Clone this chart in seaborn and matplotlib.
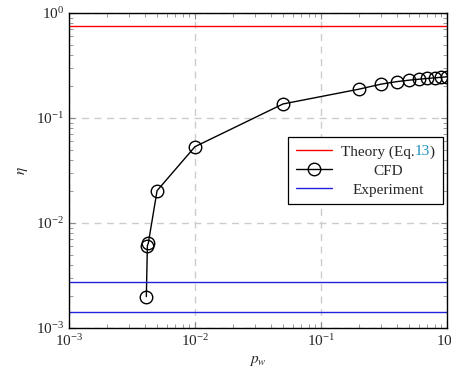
import matplotlib
matplotlib.use("Agg")
import matplotlib.pyplot as plt
import seaborn as sns
import pandas as pd

# values
cfd_pw = [0.00411, 0.00419, 0.00426, 0.005, 0.01, 0.05, 0.2, 0.3, 0.4, 0.5, 0.6, 0.7, 0.8, 0.9, 1.0]
cfd_eta = [0.00199, 0.0061, 0.0064, 0.0203, 0.0533, 0.136, 0.188, 0.21, 0.222, 0.229, 0.234, 0.238, 0.241, 0.244, 0.247]
theory_eta = 0.75
experiment_eta = [0.00276, 0.00143]
labels = ["Theory (Eq.13)", "CFD", "Experiment"]

sns.set_style("ticks")
plt.rcParams["font.family"] = ["Liberation Serif", "DejaVu Serif"]
plt.rcParams["mathtext.fontset"] = "stix"
plt.rcParams["font.size"] = 10

fig = plt.figure(figsize=(4.52, 3.71), dpi=100)
ax = fig.add_axes([0.1527, 0.116, 0.836, 0.849])

df = pd.DataFrame({"pw": cfd_pw, "eta": cfd_eta})

ax.axhline(theory_eta, color="red", lw=1, label="Theory (Eq.\u2007\u2007)")
sns.lineplot(data=df, x="pw", y="eta", ax=ax, color="black", lw=1, marker="o",
             markersize=9, markerfacecolor="none", markeredgecolor="black",
             markeredgewidth=1, estimator=None, sort=False, label=labels[1])
for i, e in enumerate(experiment_eta):
    ax.axhline(e, color="#2222dd", lw=1, label=labels[2] if i == 0 else None)

ax.set_xscale("log")
ax.set_yscale("log")
ax.set_xlim(1e-3, 1)
ax.set_ylim(1e-3, 1)
ax.set_xlabel("$p_w$", fontsize=11)
ax.set_ylabel("$\\eta$", fontsize=11)

ax.grid(True, which="major", ls=(0, (5, 4)), color="#cccccc", lw=1)
ax.tick_params(which="both", direction="in", top=True, right=True, color="#888888")
ax.tick_params(which="major", length=4, labelsize=11)
ax.tick_params(which="minor", length=3)
for s in ax.spines.values():
    s.set_color("black")
    s.set_linewidth(1)

leg = ax.legend(loc="upper right", bbox_to_anchor=(0.99, 0.606), borderaxespad=0,
                fancybox=False, framealpha=1, edgecolor="black", fontsize=11,
                handlelength=2.4, handletextpad=0.6, borderpad=0.5, labelspacing=0.35)
leg.get_frame().set_linewidth(0.9)

# centre the legend texts and colour the equation number
fig.canvas.draw()
renderer = fig.canvas.get_renderer()
texts = leg.get_texts()
widths = [t.get_window_extent(renderer).width for t in texts]
maxw = max(widths)
for t, w in zip(texts, widths):
    t.set_position(((maxw - w) / 2, 0))
fig.canvas.draw()
t0 = texts[0]
bb = t0.get_window_extent(renderer)
_, _, descent = renderer.get_text_width_height_descent(
    t0.get_text(), t0.get_fontproperties(), ismath=False)
probe = fig.text(0, 0, "Theory (Eq.", fontproperties=t0.get_fontproperties())
pw = probe.get_window_extent(renderer).width
probe.remove()
fig.text((bb.x0 + pw) / fig.bbox.width, (bb.y0 + descent) / fig.bbox.height, "13",
         fontproperties=t0.get_fontproperties(), color="#1a8fbf",
         va="baseline", ha="left")

fig.savefig("out.png", dpi=100)
